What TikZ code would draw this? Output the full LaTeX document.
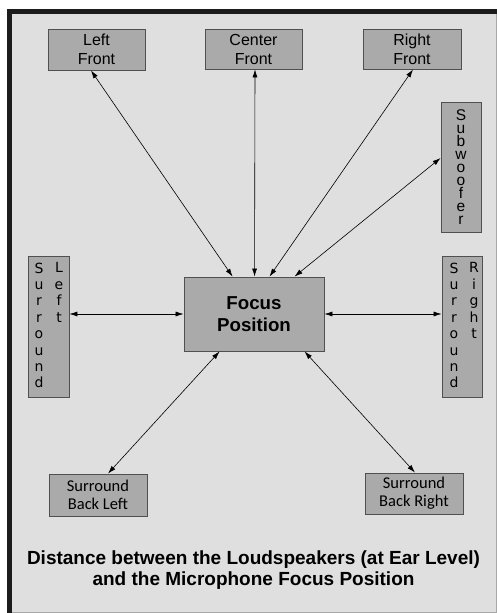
\documentclass[tikz,border=0pt]{standalone}
\usepackage{fontspec}
\setmainfont{Liberation Sans}
\newfontfamily\carlito{Carlito}
\newfontfamily\dejavu{DejaVu Sans}
\usetikzlibrary{arrows.meta,calc}
\newcommand\mytightlines{\lineskiplimit-100pt\relax}
\definecolor{bgfill}{HTML}{DFDFDF}
\definecolor{boxfill}{HTML}{AAAAAA}
\definecolor{boxline}{HTML}{505050}
\definecolor{framedark}{HTML}{1C1C1C}
\definecolor{framelight}{HTML}{A8A8A8}
\tikzset{
  spk/.style={draw=boxline, fill=boxfill, line width=0.9pt, inner sep=0pt, align=center},
  toplbl/.style={font=\fontsize{16}{19}\selectfont},
  sidelbl/.style={inner sep=0pt, anchor=north, align=center, font=\dejavu\fontsize{14}{16.4}\selectfont\mytightlines},
  backlbl/.style={font=\carlito\fontsize{16.5}{18}\selectfont},
  conn/.style={{Latex[length=8pt,width=5pt]}-{Latex[length=8pt,width=5pt]}, line width=0.6pt, black}
}
\begin{document}
\begin{tikzpicture}[x=1pt,y=-1pt]
\useasboundingbox (0,0) rectangle (497,613);
\fill[white] (0,0) rectangle (497,613);
\fill[bgfill] (7,9) rectangle (497,613);
\draw[framelight, line width=1pt] (7,612) -- (496.5,612) -- (496.5,14);
\fill[framedark] (7,9) rectangle (497,14);
\fill[framedark] (7,9) rectangle (12,613);

% speakers
\node[spk, toplbl, minimum width=97pt, minimum height=41pt] (LF) at (96.5,49.5) {Left\\Front};
\node[spk, toplbl, minimum width=97pt, minimum height=40pt] (CF) at (253.5,49) {Center\\Front};
\node[spk, toplbl, minimum width=98pt, minimum height=40pt] (RF) at (412,49) {Right\\Front};
\node[spk, minimum width=40pt, minimum height=130pt, font=\fontsize{15.5}{13}\selectfont\mytightlines] (SW) at (461,167) {S\\u\\b\\w\\o\\o\\f\\e\\r};
\node[spk, minimum width=41pt, minimum height=141pt] (SL) at (48.5,326.5) {};
\node[sidelbl] (SLa) at ([xshift=-9.5pt,yshift=-7pt]SL.north) {S\\u\\r\\r\\o\\u\\n\\d};
\node[sidelbl] (SLb) at ([xshift=10.5pt,yshift=-7pt]SL.north) {L\\e\\f\\t};
\node[spk, minimum width=40pt, minimum height=141pt] (SR) at (462,326.5) {};
\node[sidelbl] (SRa) at ([xshift=-8pt,yshift=-7pt]SR.north) {S\\u\\r\\r\\o\\u\\n\\d};
\node[sidelbl] (SRb) at ([xshift=12pt,yshift=-7pt]SR.north) {R\\i\\g\\h\\t};
\node[spk, minimum width=140pt, minimum height=74pt, font=\bfseries\fontsize{18.7}{22}\selectfont] (FP) at (254,314) {Focus\\Position};
\node[spk, backlbl, minimum width=98pt, minimum height=42pt] (SBL) at (98,495) {Surround\\Back Left};
\node[spk, backlbl, minimum width=98pt, minimum height=41pt] (SBR) at (414,493.5) {Surround\\Back Right};

% connectors
\draw[conn] ([xshift=49pt]FP.north west) -- ([xshift=-5.5pt]LF.south);
\draw[conn] ([xshift=71pt]FP.north west) -- ([xshift=1.5pt]CF.south);
\draw[conn] ([xshift=86pt]FP.north west) -- ([xshift=1pt]RF.south);
\draw[conn] ([xshift=111pt]FP.north west) -- ([yshift=9pt]SW.west);
\draw[conn] (FP.west) -- (FP.west -| SL.east);
\draw[conn] (FP.east) -- (FP.east -| SR.west);
\draw[conn] ([xshift=36pt]FP.south west) -- ([xshift=10pt]SBL.north);
\draw[conn] ([xshift=121pt]FP.south west) -- ([xshift=1pt]SBR.north);

% caption
\node[align=center, font=\bfseries\fontsize{19}{20.5}\selectfont] (CAP) at (253.5,570) {Distance between the Loudspeakers (at Ear Level)\\and the Microphone Focus Position};
\end{tikzpicture}
\end{document}
